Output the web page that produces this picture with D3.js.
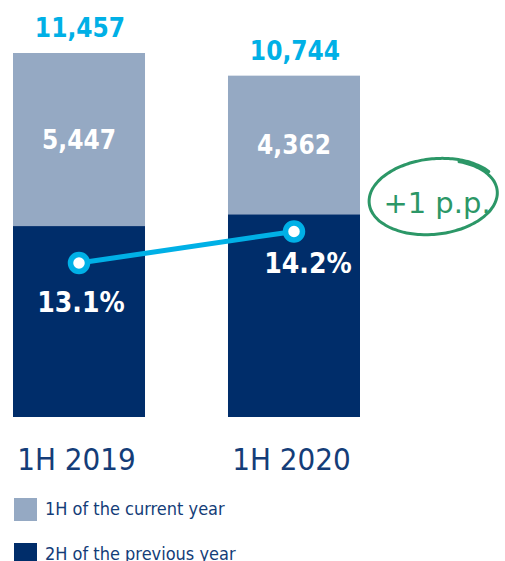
<!DOCTYPE html>
<html>
<head>
<meta charset="utf-8">
<script src="https://cdn.jsdelivr.net/npm/d3@7"></script>
<style>
  html, body { margin: 0; padding: 0; background: #fff; }
  svg { display: block; }
  .bold { font-family: "DejaVu Sans Condensed", "DejaVu Sans", sans-serif; font-weight: bold; }
  .reg { font-family: "DejaVu Sans Condensed", "DejaVu Sans", sans-serif; }
</style>
</head>
<body>
<div id="chart"></div>
<script>
// chart data
const categories = ['1H 2019', '1H 2020'];
const currentHalf = [5447, 4362];     // 1H of the current year
const previousHalf = [6010, 6382];    // 2H of the previous year
const totals = [11457, 10744];
const shares = [13.1, 14.2];          // line, %
const seriesNames = ['1H of the current year', '2H of the previous year'];
const deltaLabel = '+1 p.p.';

const width = 505, height = 561;
const colLight = '#95a9c3';
const colDark = '#002d6a';
const colCyan = '#00b0e6';
const colText = '#143d78';
const colGreen = '#2c9767';

const svg = d3.select('#chart').append('svg')
    .attr('width', width)
    .attr('height', height);

const x = d3.scaleBand()
    .domain(categories)
    .range([13, 360])
    .paddingInner(0.386)
    .paddingOuter(0);

const y = d3.scaleLinear()
    .domain([0, d3.max(totals)])
    .range([417, 53]);

const yPct = d3.scaleLinear()
    .domain([10, 20])
    .range([352, 65]);

const rows = categories.map((c, i) => ({
    cat: c, cur: currentHalf[i], prev: previousHalf[i], total: totals[i], share: shares[i], i
}));

const fmt = d3.format(',');

// dark (bottom) segments
svg.selectAll('.bar-prev')
    .data(rows)
    .enter().append('rect')
    .attr('class', 'bar-prev')
    .attr('x', d => x(d.cat))
    .attr('width', x.bandwidth())
    .attr('y', d => y(d.prev))
    .attr('height', d => y(0) - y(d.prev))
    .style('fill', colDark);

// light (top) segments
svg.selectAll('.bar-cur')
    .data(rows)
    .enter().append('rect')
    .attr('class', 'bar-cur')
    .attr('x', d => x(d.cat))
    .attr('width', x.bandwidth())
    .attr('y', d => y(d.prev + d.cur))
    .attr('height', d => y(d.prev) - y(d.prev + d.cur))
    .style('fill', colLight);

// totals above bars
svg.selectAll('.total')
    .data(rows)
    .enter().append('text')
    .attr('class', 'bold')
    .attr('x', d => x(d.cat) + x.bandwidth() / 2 + 1)
    .attr('y', d => y(d.total) - 16)
    .attr('text-anchor', 'middle')
    .style('font-size', '26px')
    .style('fill', colCyan)
    .text(d => fmt(d.total));

// values inside light segments
svg.selectAll('.cur-label')
    .data(rows)
    .enter().append('text')
    .attr('class', 'bold')
    .attr('x', d => x(d.cat) + x.bandwidth() / 2)
    .attr('y', d => (y(d.prev) + y(d.prev + d.cur)) / 2 + 9)
    .attr('text-anchor', 'middle')
    .style('font-size', '26px')
    .style('fill', '#fff')
    .text(d => fmt(d.cur));

// share line
const cx = d => x(d.cat) + x.bandwidth() / 2;
svg.append('path')
    .datum(rows)
    .attr('d', d3.line().x(cx).y(d => yPct(d.share)))
    .style('fill', 'none')
    .style('stroke', colCyan)
    .style('stroke-width', 5);

svg.selectAll('.dot')
    .data(rows)
    .enter().append('circle')
    .attr('cx', cx)
    .attr('cy', d => yPct(d.share))
    .attr('r', 8.5)
    .style('fill', '#fff')
    .style('stroke', colCyan)
    .style('stroke-width', 5.5);

svg.selectAll('.pct')
    .data(rows)
    .enter().append('text')
    .attr('class', 'bold')
    .attr('x', d => cx(d) + (d.i === 1 ? 14 : 2))
    .attr('y', d => yPct(d.share) + (d.i === 1 ? 42 : 49))
    .attr('text-anchor', 'middle')
    .style('font-size', '28px')
    .style('fill', '#fff')
    .text(d => d.share.toFixed(1) + '%');

// category labels
svg.selectAll('.cat')
    .data(categories)
    .enter().append('text')
    .attr('class', 'reg')
    .attr('x', d => x(d) + x.bandwidth() / 2 - 2.5)
    .attr('y', 470)
    .attr('text-anchor', 'middle')
    .style('font-size', '31px')
    .style('fill', colText)
    .text(d => d);

// hand-drawn circle annotation
const ax = x(categories[1]) + x.bandwidth() + 74, ay = 197;
const rx = 63, ry = 36.5, rot = -6 * Math.PI / 180;
const pts = d3.range(0, 1.1, 0.01).map(t => {
    const th = -1.1 + t * 2 * Math.PI;
    const s = 1 + 0.05 * t;
    const px = rx * s * Math.cos(th), py = ry * s * Math.sin(th);
    return [ax + px * Math.cos(rot) - py * Math.sin(rot), ay + px * Math.sin(rot) + py * Math.cos(rot)];
});
svg.append('path')
    .attr('d', d3.line().curve(d3.curveBasis)(pts))
    .style('fill', 'none')
    .style('stroke', colGreen)
    .style('stroke-width', 3)
    .style('stroke-linecap', 'round');

svg.append('text')
    .attr('x', ax + 3)
    .attr('y', 213)
    .attr('text-anchor', 'middle')
    .style('font-family', '"DejaVu Sans", sans-serif')
    .style('font-size', '29px')
    .style('fill', colGreen)
    .text(deltaLabel);

// legend
const legend = svg.selectAll('.legend')
    .data(seriesNames)
    .enter().append('g')
    .attr('transform', (d, i) => `translate(14, ${498 + i * 45})`);

legend.append('rect')
    .attr('width', 23)
    .attr('height', 23)
    .style('fill', (d, i) => i === 0 ? colLight : colDark);

legend.append('text')
    .attr('class', 'reg')
    .attr('x', 31)
    .attr('y', 16.5)
    .style('font-size', '18px')
    .style('fill', colText)
    .text(d => d);
</script>
</body>
</html>
